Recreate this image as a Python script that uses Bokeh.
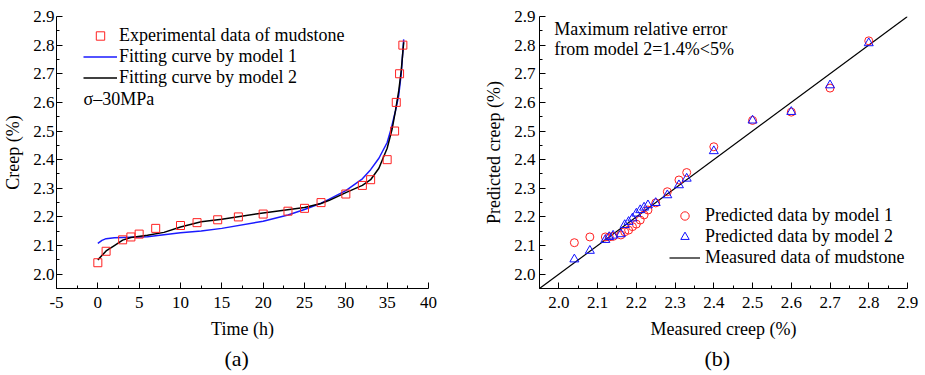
from bokeh.plotting import figure
from bokeh.layouts import row
from bokeh.models import (Range1d, FixedTicker, NumeralTickFormatter, Legend,
                          LegendItem, Label, Title)
from bokeh.embed import file_html
from bokeh.resources import INLINE

FONT = "Liberation Serif"

# ---- data ----
time_h = [0, 1, 3, 4, 5, 7, 10, 12, 14.5, 17, 20, 23, 25, 27, 30, 32, 33,
          35, 35.9, 36.1, 36.5, 36.9]
creep_exp = [2.04, 2.08, 2.12, 2.13, 2.14, 2.16, 2.17, 2.18, 2.19, 2.20, 2.21,
             2.22, 2.23, 2.25, 2.28, 2.31, 2.33, 2.40, 2.50, 2.60, 2.70, 2.80]

m1_t = [0, 0.5, 1, 2, 4, 6, 10, 12.5, 15, 20, 23, 25, 27, 28, 30, 32, 33,
        34, 35, 35.5, 36, 36.4, 36.7, 37]
m1_c = [2.108, 2.118, 2.124, 2.127, 2.129, 2.131, 2.145, 2.151, 2.160, 2.185,
        2.207, 2.226, 2.248, 2.262, 2.292, 2.333, 2.365, 2.405, 2.46, 2.51,
        2.57, 2.625, 2.70, 2.82]

m2_t = [0, 1, 2, 3, 4, 6, 8, 10, 12.5, 15, 20, 25, 27, 28, 30, 32, 33, 34,
        35, 35.6, 36, 36.4, 36.7, 37]
m2_c = [2.05, 2.081, 2.10, 2.119, 2.128, 2.136, 2.146, 2.165, 2.183, 2.192,
        2.214, 2.233, 2.247, 2.258, 2.285, 2.31, 2.33, 2.37, 2.44, 2.507,
        2.57, 2.64, 2.71, 2.81]

measured = creep_exp
pred_m1 = [2.11, 2.13, 2.13, 2.13, 2.132, 2.137, 2.148, 2.154, 2.166, 2.175,
           2.189, 2.207, 2.224, 2.249, 2.288, 2.329, 2.355, 2.445, 2.537,
           2.566, 2.65, 2.815]
pred_m2 = [2.052, 2.082, 2.12, 2.13, 2.135, 2.14, 2.172, 2.183, 2.195, 2.212,
           2.224, 2.233, 2.241, 2.249, 2.276, 2.311, 2.334, 2.43, 2.537,
           2.567, 2.66, 2.807]
diag = [1.95, 2.9]

creep_ticks = [2.0, 2.1, 2.2, 2.3, 2.4, 2.5, 2.6, 2.7, 2.8, 2.9]
creep_minor = [1.95, 2.05, 2.15, 2.25, 2.35, 2.45, 2.55, 2.65, 2.75, 2.85]
time_ticks = [-5, 0, 5, 10, 15, 20, 25, 30, 35, 40]
time_minor = [-2.5, 2.5, 7.5, 12.5, 17.5, 22.5, 27.5, 32.5, 37.5]


def style_axis(ax, ticks, minor, fmt):
    ax.ticker = FixedTicker(ticks=ticks, minor_ticks=minor)
    ax.formatter = NumeralTickFormatter(format=fmt)
    ax.major_tick_in = 6
    ax.major_tick_out = 0
    ax.minor_tick_in = 3
    ax.minor_tick_out = 0
    ax.axis_line_color = "black"
    ax.major_tick_line_color = "black"
    ax.minor_tick_line_color = "black"
    ax.major_label_text_font = FONT
    ax.major_label_text_font_size = "17px"
    ax.major_label_text_color = "black"
    ax.axis_label_text_font = FONT
    ax.axis_label_text_font_size = "18px"
    ax.axis_label_text_font_style = "normal"
    ax.axis_label_text_color = "black"


def style_fig(p):
    p.xgrid.visible = False
    p.ygrid.visible = False
    p.outline_line_color = None
    p.background_fill_color = "white"
    p.border_fill_color = "white"


# ---- panel (a) ----
p1 = figure(width=460, height=375, output_backend="svg", toolbar_location=None,
            x_range=Range1d(-5, 40), y_range=Range1d(1.95, 2.9),
            min_border_left=56, min_border_right=32, min_border_top=16,
            min_border_bottom=85)
style_fig(p1)
style_axis(p1.xaxis[0], time_ticks, time_minor, "0")
style_axis(p1.yaxis[0], creep_ticks, creep_minor, "0.0")
p1.xaxis.axis_label = "Time (h)"
p1.yaxis.axis_label = "Creep (%)"
p1.yaxis.major_label_standoff = 2
p1.yaxis.axis_label_standoff = 7
p1.xaxis.major_label_standoff = 8
p1.xaxis.axis_label_standoff = 8

r_l1 = p1.line(m1_t, m1_c, line_color="#1a1aff", line_width=1.5)
r_l2 = p1.line(m2_t, m2_c, line_color="black", line_width=1.5)
r_sq = p1.scatter(time_h, creep_exp, marker="square", size=8, fill_color=None,
                  line_color="#ff2020", line_width=1)

leg1 = Legend(items=[LegendItem(label="Experimental data of mudstone", renderers=[r_sq]),
                     LegendItem(label="Fitting curve by model 1", renderers=[r_l1]),
                     LegendItem(label="Fitting curve by model 2", renderers=[r_l2])],
              location=(27, 200), padding=0, spacing=0, margin=0,
              glyph_width=34, glyph_height=21, label_height=21,
              label_standoff=2, border_line_color=None,
              background_fill_alpha=0, label_text_font=FONT,
              label_text_font_size="18px", label_text_color="black")
p1.add_layout(leg1, "center")
p1.add_layout(Label(x=-1.73, y=2.612, text="σ–30MPa", text_font=FONT,
                    text_font_size="18px", text_baseline="middle",
                    text_color="black"))
p1.add_layout(Title(text="(a)", align="left", offset=168, standoff=5,
                    text_font=FONT, text_font_size="22px",
                    text_font_style="normal", text_color="black"), "below")

# ---- panel (b) ----
p2 = figure(width=465, height=375, output_backend="svg", toolbar_location=None,
            x_range=Range1d(1.95, 2.9), y_range=Range1d(1.95, 2.9),
            min_border_left=79, min_border_right=18, min_border_top=16,
            min_border_bottom=87)
style_fig(p2)
style_axis(p2.xaxis[0], creep_ticks, creep_minor, "0.0")
style_axis(p2.yaxis[0], creep_ticks, creep_minor, "0.0")
p2.xaxis.axis_label = "Measured creep (%)"
p2.yaxis.axis_label = "Predicted creep (%)"
p2.yaxis.major_label_standoff = 4
p2.yaxis.axis_label_standoff = 7
p2.xaxis.major_label_standoff = 8
p2.xaxis.axis_label_standoff = 8

r_d = p2.line(diag, diag, line_color="black", line_width=1.2)
r_c = p2.scatter(measured, pred_m1, marker="circle", size=8, fill_color=None,
                 line_color="#ff2020", line_width=1)
r_t = p2.scatter(measured, pred_m2, marker="triangle", size=9, fill_color=None,
                 line_color="#1010ff", line_width=1)

leg2 = Legend(items=[LegendItem(label="Predicted data by model 1", renderers=[r_c]),
                     LegendItem(label="Predicted data by model 2", renderers=[r_t]),
                     LegendItem(label="Measured data of mudstone", renderers=[r_d])],
              location=(130, 20), padding=0, spacing=0, margin=0,
              glyph_width=31, glyph_height=21, label_height=21,
              label_standoff=5, border_line_color=None,
              background_fill_alpha=0, label_text_font=FONT,
              label_text_font_size="18px", label_text_color="black")
p2.add_layout(leg2, "center")
p2.add_layout(Label(x=1.988, y=2.858, text="Maximum relative error",
                    text_font=FONT, text_font_size="18px",
                    text_baseline="middle", text_color="black"))
p2.add_layout(Label(x=1.988, y=2.785, text="from model 2=1.4%<5%",
                    text_font=FONT, text_font_size="18px",
                    text_baseline="middle", text_color="black"))
p2.add_layout(Title(text="(b)", align="left", offset=165, standoff=5,
                    text_font=FONT, text_font_size="22px",
                    text_font_style="normal", text_color="black"), "below")

layout = row(p1, p2)
open("out.html", "w").write(file_html(layout, INLINE))
